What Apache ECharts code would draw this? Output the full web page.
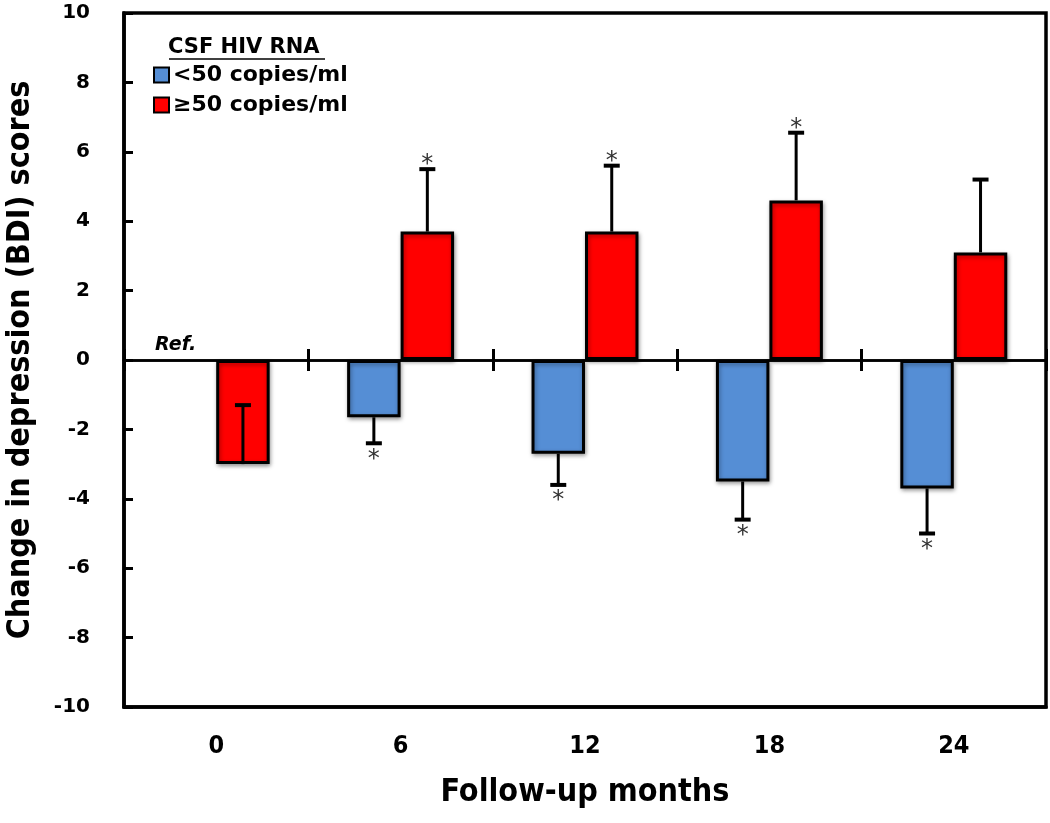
<!DOCTYPE html>
<html>
<head>
<meta charset="utf-8">
<script src="https://cdn.jsdelivr.net/npm/echarts@6/dist/echarts.min.js"></script>
<style>
html,body{margin:0;padding:0;background:#fff;}
#chart{width:1050px;height:823px;}
</style>
</head>
<body>
<div id="chart"></div>
<script>
// ---- data ----
const categories = ['0', '6', '12', '18', '24'];
const yTicks = [-10, -8, -6, -4, -2, 0, 2, 4, 6, 8, 10];
const lowName = '<50 copies/ml';
const highName = '\u226550 copies/ml';
const lowVals = [null, -1.65, -2.7, -3.5, -3.7];
const lowErrEnd = [null, -2.4, -3.6, -4.6, -5.0];
const lowSig = [false, true, true, true, true];
const highVals = [-3.0, 3.7, 3.7, 4.6, 3.1];
const highErrEnd = [-1.3, 5.5, 5.6, 6.55, 5.2];
const highSig = [false, true, true, true, false];
const legendTitle = 'CSF HIV RNA';
const refLabel = 'Ref.';
const yName = 'Change in depression (BDI) scores';
const xName = 'Follow-up months';

// ---- style ----
const BAR_FRAC = 0.29;
const BLUE = '#558ED5';
const RED = '#FF0000';
const WIDE = "'DejaVu Sans', Verdana, sans-serif";
const COND = "'DejaVu Sans Condensed', 'DejaVu Sans', sans-serif";

function errRender(vals, ends, sig, side) {
  return function (params, api) {
    const i = params.dataIndex;
    const band = api.size([1, 0])[0];
    const off = band * BAR_FRAC / 2 * side;
    if (vals[i] == null) {
      if (side < 0) {
        const z = api.coord([i, 0]);
        return {
          type: 'text',
          style: {
            text: refLabel, x: z[0] - band * 0.22, y: z[1] - 15,
            align: 'center', verticalAlign: 'middle',
            font: "italic bold 19px " + WIDE, fill: '#000'
          }
        };
      }
      return;
    }
    const p0 = api.coord([i, vals[i]]);
    const p1 = api.coord([i, ends[i]]);
    const x = p0[0] + off;
    const children = [
      { type: 'line', shape: { x1: x, y1: p0[1], x2: x, y2: p1[1] }, style: { stroke: '#000', lineWidth: 3 } },
      { type: 'line', shape: { x1: x - 8, y1: p1[1], x2: x + 8, y2: p1[1] }, style: { stroke: '#000', lineWidth: 4 } }
    ];
    if (sig[i]) {
      const up = ends[i] > vals[i];
      children.push({
        type: 'text',
        style: {
          text: '*', x: x, y: up ? p1[1] - 4 : p1[1] + 16,
          align: 'center', verticalAlign: 'middle',
          font: "24px " + WIDE, fill: '#333'
        }
      });
    }
    return { type: 'group', children: children };
  };
}

const chart = echarts.init(document.getElementById('chart'), null, { renderer: 'canvas' });
const barShadow = { shadowColor: 'rgba(0,0,0,0.35)', shadowBlur: 4, shadowOffsetX: 1, shadowOffsetY: 2 };
const yMin = yTicks[0], yMax = yTicks[yTicks.length - 1];

chart.setOption({
  animation: false,
  backgroundColor: '#fff',
  grid: { left: 124, right: 4, top: 13, bottom: 116, show: true, borderColor: '#000', borderWidth: 3.5, containLabel: false, outerBoundsMode: 'none' },
  title: {
    text: legendTitle, left: 168, top: 37, padding: 0,
    textStyle: { fontFamily: WIDE, fontWeight: 'bold', fontSize: 21, color: '#000' }
  },
  legend: {
    data: [lowName, highName],
    orient: 'vertical', left: 153, top: 64, itemGap: 8, padding: 0,
    icon: 'rect', itemWidth: 15, itemHeight: 15,
    itemStyle: { borderColor: '#000', borderWidth: 2 },
    textStyle: { fontFamily: WIDE, fontWeight: 'bold', fontSize: 22, lineHeight: 22, color: '#000', padding: [0, 0, 0, -1] }
  },
  graphic: [
    { type: 'line', shape: { x1: 169, y1: 59, x2: 325, y2: 59 }, style: { stroke: '#000', lineWidth: 1.5 } }
  ],
  xAxis: [
    {
      type: 'category', data: categories, position: 'bottom',
      axisLine: { onZero: false, lineStyle: { color: '#000', width: 3.5 } },
      axisTick: { show: false },
      axisLabel: { margin: 27, fontFamily: COND, fontWeight: 'bold', fontSize: 25, color: '#000' },
      name: xName, nameLocation: 'middle', nameGap: 70,
      nameTextStyle: { fontFamily: COND, fontWeight: 'bold', fontSize: 32, color: '#000' }
    },
    {
      type: 'category', data: categories, position: 'top',
      axisLine: { onZero: true, onZeroAxisIndex: 0, lineStyle: { color: '#000', width: 2.5 } },
      axisTick: { show: true, inside: false, length: 11, lineStyle: { color: '#000', width: 3 } },
      axisLabel: { show: false }
    },
    {
      type: 'category', data: categories, position: 'bottom',
      axisLine: { onZero: true, onZeroAxisIndex: 1, lineStyle: { color: '#000', width: 2.5 } },
      axisTick: { show: true, inside: false, length: 11, lineStyle: { color: '#000', width: 3 } },
      axisLabel: { show: false }
    }
  ],
  yAxis: [
    {
      type: 'value', min: yMin, max: yMax, interval: 2,
      axisLine: { show: true, lineStyle: { color: '#000', width: 3.5 } },
      axisTick: { show: true, inside: true, length: 9, lineStyle: { color: '#000', width: 3 } },
      splitLine: { show: false },
      axisLabel: { margin: 34, fontFamily: WIDE, fontWeight: 'bold', fontSize: 20, color: '#000' },
      name: yName, nameLocation: 'middle', nameGap: 87,
      nameTextStyle: { fontFamily: COND, fontWeight: 'bold', fontSize: 32, color: '#000' }
    },
    {
      type: 'value', min: yMin, max: yMax, interval: 2, position: 'right',
      axisLine: { show: false }, axisTick: { show: false }, axisLabel: { show: false }, splitLine: { show: false }
    }
  ],
  series: [
    {
      name: lowName, type: 'bar', xAxisIndex: 0, yAxisIndex: 0, data: lowVals,
      barWidth: (BAR_FRAC * 100) + '%', barGap: '0%',
      itemStyle: Object.assign({ color: BLUE, borderColor: '#000', borderWidth: 3 }, barShadow)
    },
    {
      name: highName, type: 'bar', xAxisIndex: 0, yAxisIndex: 0, data: highVals,
      barWidth: (BAR_FRAC * 100) + '%', barGap: '0%',
      itemStyle: Object.assign({ color: RED, borderColor: '#000', borderWidth: 3 }, barShadow)
    },
    {
      name: lowName, type: 'custom', xAxisIndex: 0, yAxisIndex: 0, z: 5,
      data: lowErrEnd.map((v, i) => [i, v == null ? 0 : v]),
      renderItem: errRender(lowVals, lowErrEnd, lowSig, -1)
    },
    {
      name: highName, type: 'custom', xAxisIndex: 0, yAxisIndex: 0, z: 5,
      data: highErrEnd.map((v, i) => [i, v]),
      renderItem: errRender(highVals, highErrEnd, highSig, 1)
    }
  ]
});
</script>
</body>
</html>
